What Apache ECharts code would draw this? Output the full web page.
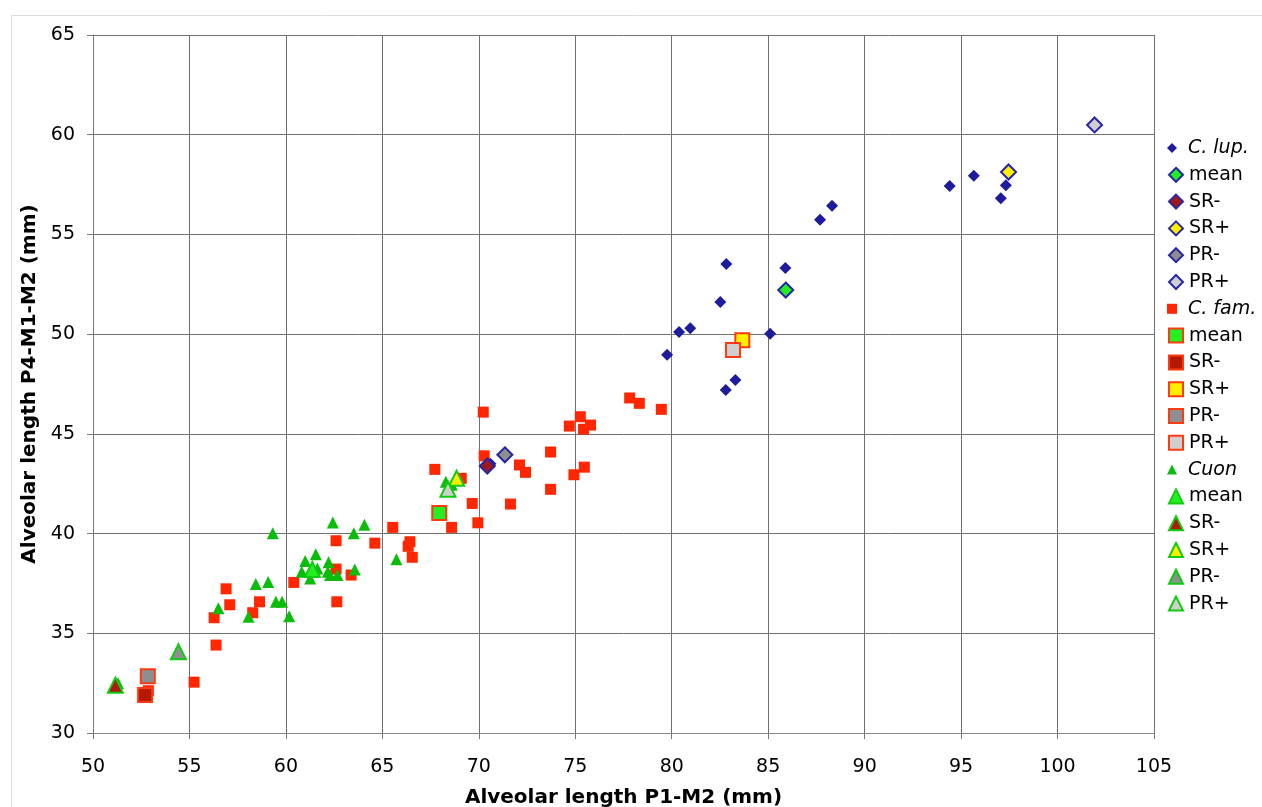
<!DOCTYPE html>
<html>
<head>
<meta charset="utf-8">
<script src="https://cdn.jsdelivr.net/npm/echarts@6/dist/echarts.min.js"></script>
<style>html,body{margin:0;padding:0;background:#fff}#c{width:1262px;height:807px}</style>
</head>
<body>
<div id="c"></div>
<script>
// ---- data ----
const cLup = [[94.41,57.43],[95.66,57.94],[97.32,57.46],[97.06,56.81],[87.69,55.74],[88.31,56.44],
  [82.83,53.52],[85.89,53.32],[82.52,51.61],[80.96,50.29],[80.38,50.11],[79.76,48.97],[85.10,50.02],
  [83.30,47.70],[82.80,47.20],[70.6,43.5]];
const cFam = [[52.87,32.12],[55.24,32.55],[56.38,34.41],[56.28,35.78],[56.90,37.23],[57.09,36.43],
  [58.28,36.03],[58.63,36.58],[60.41,37.55],[62.64,36.58],[62.60,38.22],[62.60,39.64],[63.38,37.92],
  [64.61,39.52],[65.54,40.31],[66.43,39.59],[66.34,39.36],[66.55,38.81],[67.72,43.22],[69.09,42.77],
  [70.28,43.90],[69.66,41.51],[68.59,40.31],[69.95,40.54],[72.11,43.44],[72.42,43.07],[71.64,41.48],
  [70.23,46.09],[77.82,46.80],[78.32,46.53],[79.46,46.23],[75.26,45.86],[74.69,45.39],[75.43,45.23],
  [75.79,45.44],[73.72,44.09],[75.47,43.33],[74.93,42.95],[73.72,42.22]];
const cuon = [[51.30,32.50],[56.50,36.25],[58.06,35.83],[58.44,37.47],[59.08,37.57],[59.48,36.58],
  [59.80,36.58],[60.17,35.86],[59.32,40.01],[62.43,40.55],[64.07,40.44],[63.52,40.01],[61.55,38.96],
  [61.00,38.62],[62.21,38.56],[60.82,38.09],[61.63,38.25],[61.26,37.75],[62.17,38.09],[62.29,37.92],
  [62.67,37.92],[63.57,38.20],[65.73,38.71],[68.29,42.60],[68.6,42.45]];
// stats order: mean, SR-, SR+, PR-, PR+
const statNames = ['mean','SR-','SR+','PR-','PR+'];
const lupStats = [[85.91,52.21],[70.44,43.39],[97.46,58.13],[71.35,43.95],[101.92,60.49]];
const famStats = [[67.95,41.03],[52.70,31.90],[83.66,49.70],[52.84,32.85],[83.18,49.20]];
const cuonStats = [[61.37,38.20],[51.16,32.40],[68.85,42.77],[54.43,34.08],[68.40,42.22]];
const speciesLabels = ['C. lup.','C. fam.','Cuon'];

// ---- styling ----
const FONT = 'DejaVu Sans';
const groups = [
  {key:'lup', label:speciesLabels[0], pts:cLup, stats:lupStats, symbol:'diamond', color:'#1c1c9c', size:12,
   sBorder:'#2626a6', sSize:15, srMinus:'#a01818'},
  {key:'fam', label:speciesLabels[1], pts:cFam, stats:famStats, symbol:'rect', color:'#ff2600', size:11,
   sBorder:'#ff3a10', sSize:14, srMinus:'#b41a00'},
  {key:'cuon', label:speciesLabels[2], pts:cuon, stats:cuonStats, symbol:'triangle', color:'#0cbc0c', size:12,
   sBorder:'#10cc10', sSize:15, srMinus:'#b01810'}
];
const fills = ['#22ee22', null, '#ffee00', '#8e8e8e', '#cfcfcf'];

const series = [];
const legends = [];
let li = 0;
const legTop0 = 148, legStep = 26.8;
function addLegend(name, text, italic, w, h, left, padL) {
  legends.push({
    show:true, orient:'vertical', left:left, top: legTop0 + li*legStep - 10, padding:0,
    itemWidth:w, itemHeight:h, itemGap:0, selectedMode:false,
    data:[name], formatter:()=>text,
    textStyle:{fontFamily:FONT, fontSize:19, lineHeight:20, color:'#000', fontStyle: italic?'italic':'normal', padding:[0,0,0,padL]}
  });
  li++;
}
groups.forEach(g => {
  const baseName = g.key + '_pts';
  series.push({
    name: baseName, type:'scatter', data:g.pts, symbol:g.symbol, symbolSize:g.size, z:2,
    itemStyle:{color:g.color, opacity:1}, emphasis:{disabled:true}
  });
  addLegend(baseName, g.label, true, 10, 10, 1167, 6);
  g.stats.forEach((p, i) => {
    const nm = g.key + '_' + statNames[i];
    series.push({
      name:nm, type:'scatter', data:[p], symbol:g.symbol, symbolSize:g.sSize, z:3,
      itemStyle:{color: fills[i] || g.srMinus, borderColor:g.sBorder, borderWidth:2, opacity:1},
      emphasis:{disabled:true}
    });
    addLegend(nm, statNames[i], false, 14, 14, 1168, 1);
  });
});

const chart = echarts.init(document.getElementById('c'), null, {renderer:'canvas'});
chart.setOption({
  animation:false,
  backgroundColor:'#fff',
  graphic:[{type:'rect', shape:{x:11.5,y:15.5,width:1300,height:850}, style:{fill:'none', stroke:'#dcdcdc', lineWidth:1}, silent:true, z:-10}],
  grid:{left:93, right:108, top:35, bottom:74, containLabel:false, outerBoundsMode:'none'},
  legend: legends,
  xAxis:{
    type:'value', min:50, max:105, interval:5,
    name:'Alveolar length P1-M2 (mm)', nameLocation:'middle', nameGap:55,
    nameTextStyle:{fontFamily:FONT, fontSize:20, fontWeight:'bold', color:'#000'},
    axisLine:{show:true, lineStyle:{color:'#8a8a8a', width:1}},
    axisTick:{show:true, inside:false, length:6, lineStyle:{color:'#777'}},
    axisLabel:{fontFamily:FONT, fontSize:19, color:'#000', margin:25},
    splitLine:{show:true, lineStyle:{color:'#707070', width:1}}
  },
  yAxis:{
    type:'value', min:30, max:65, interval:5,
    name:'Alveolar length P4-M1-M2 (mm)', nameLocation:'middle', nameGap:48,
    nameTextStyle:{fontFamily:FONT, fontSize:20, fontWeight:'bold', color:'#000'},
    axisLine:{show:true, lineStyle:{color:'#777', width:1}},
    axisTick:{show:true, inside:false, length:6, lineStyle:{color:'#777'}},
    axisLabel:{fontFamily:FONT, fontSize:19, color:'#000', margin:18},
    splitLine:{show:true, lineStyle:{color:'#707070', width:1}}
  },
  series: series
});
</script>
</body>
</html>
